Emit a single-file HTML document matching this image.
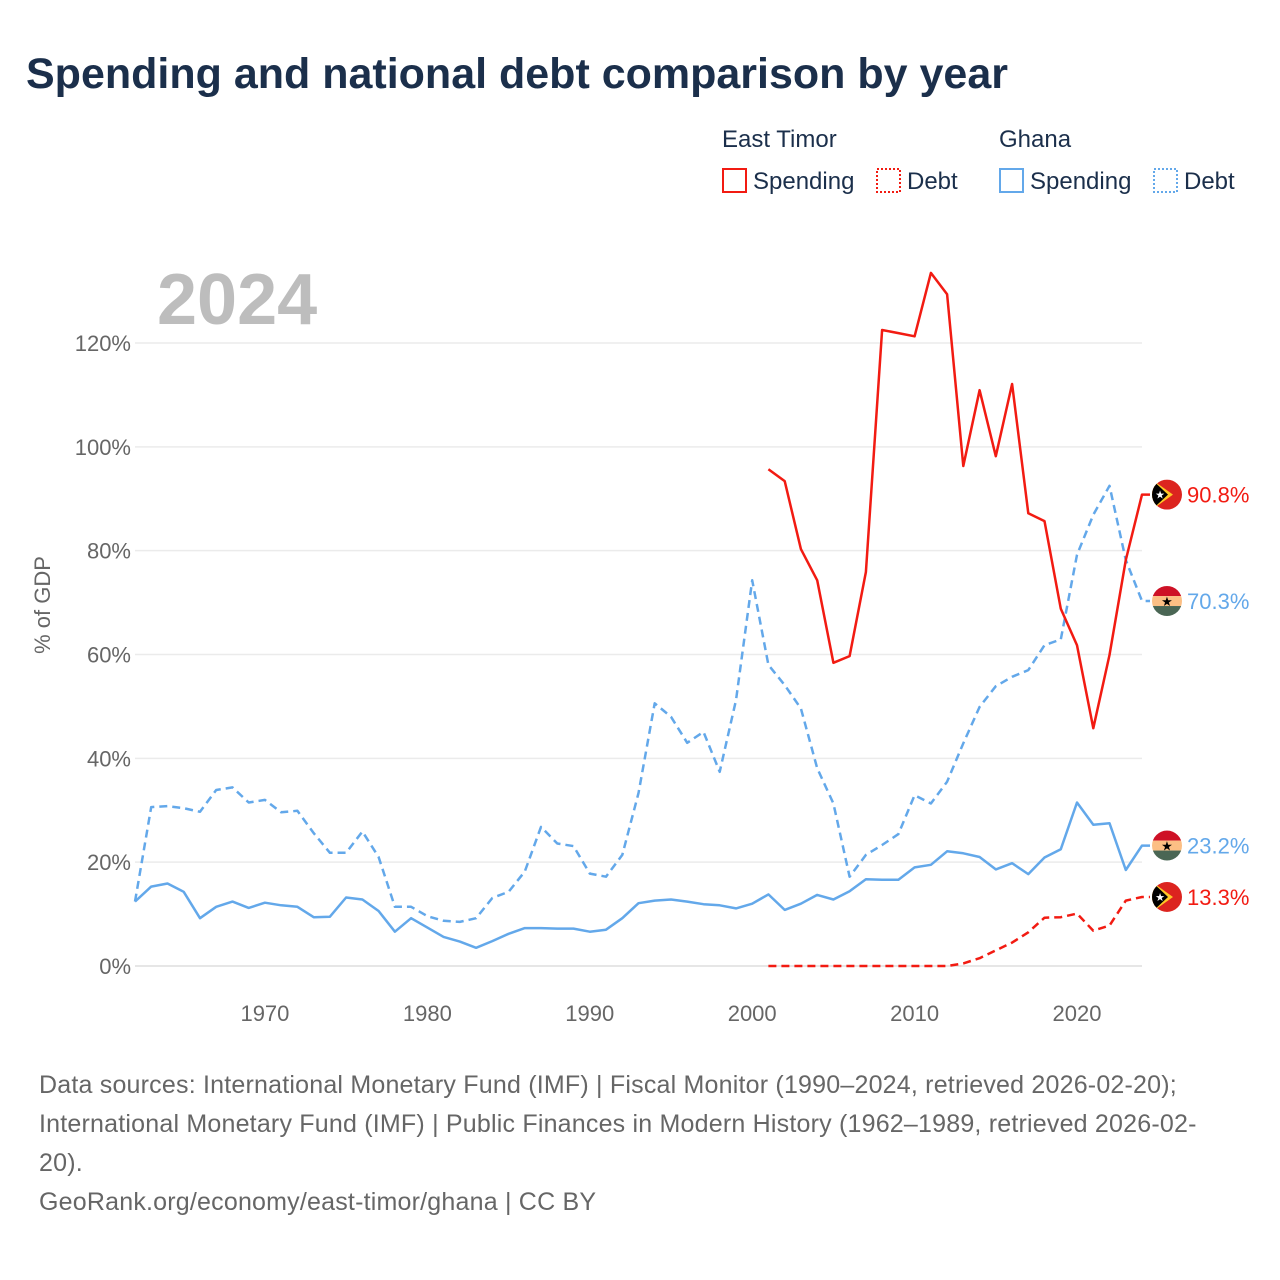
<!DOCTYPE html>
<html><head><meta charset="utf-8"><style>
body{margin:0;background:#fff;font-family:"Liberation Sans",sans-serif;}
#wrap{position:relative;width:1280px;height:1280px;overflow:hidden;}
.t{position:absolute;white-space:nowrap;}
</style></head><body>
<div id="wrap">
<div class="t" style="left:26px;top:50px;font-size:43px;font-weight:bold;color:#1b2f4b;">Spending and national debt comparison by year</div>
<svg id="chart" width="1280" height="1280" style="position:absolute;left:0;top:0"></svg>
<div class="t" style="left:39px;top:1066px;font-size:25px;letter-spacing:0.2px;line-height:39px;color:#666;">Data sources: International Monetary Fund (IMF) | Fiscal Monitor (1990–2024, retrieved 2026-02-20);<br>International Monetary Fund (IMF) | Public Finances in Modern History (1962–1989, retrieved 2026-02-<br>20).<br>GeoRank.org/economy/east-timor/ghana | CC BY</div>
</div>
<script>
const years = [];
for (let y = 1962; y <= 2024; y++) years.push(y);
const ghanaSpending = [12.4,15.3,15.9,14.3,9.2,11.4,12.4,11.2,12.2,11.7,11.4,9.4,9.5,13.2,12.8,10.6,6.6,9.2,7.4,5.6,4.7,3.5,4.8,6.2,7.3,7.3,7.2,7.2,6.6,7.0,9.2,12.1,12.6,12.8,12.4,11.9,11.7,11.1,12.0,13.8,10.8,12.0,13.7,12.8,14.4,16.7,16.6,16.6,19.0,19.5,22.1,21.7,21.0,18.6,19.8,17.7,20.9,22.5,31.5,27.2,27.5,18.5,23.2];
const ghanaDebt = [12.4,30.6,30.8,30.4,29.7,33.9,34.4,31.5,32.0,29.6,29.9,25.6,21.8,21.8,25.9,21.0,11.4,11.4,9.6,8.7,8.5,9.2,13.1,14.3,18.2,26.8,23.6,23.1,17.8,17.2,21.4,33.3,50.6,48.0,43.0,45.1,37.4,51.2,74.3,58.0,54.1,49.6,38.1,31.3,17.2,21.4,23.3,25.4,32.9,31.3,35.5,42.9,49.9,53.9,55.7,57.0,61.8,62.9,79.2,86.9,92.5,78.2,70.3];
const etYears = [];
for (let y = 2001; y <= 2024; y++) etYears.push(y);
const etSpending = [95.7,93.4,80.3,74.3,58.4,59.7,75.9,122.5,121.9,121.3,133.5,129.4,96.3,110.9,98.2,112.1,87.2,85.7,68.8,61.8,45.8,59.9,78.2,90.8];
const etDebt = [0,0,0,0,0,0,0,0,0,0,0,0,0.5,1.5,3.0,4.5,6.5,9.3,9.4,10.1,6.8,7.8,12.6,13.3];
const yTicks = [0,20,40,60,80,100,120];
const xTicks = [1970,1980,1990,2000,2010,2020];

const NS = "http://www.w3.org/2000/svg";
const svg = document.getElementById("chart");
const X = yr => 135 + (yr - 1962) * (1142 - 135) / 62;
const Y = v => 966 - v * (966 - 343) / 120;
function el(tag, attrs, parent) {
  const e = document.createElementNS(NS, tag);
  for (const k in attrs) e.setAttribute(k, attrs[k]);
  (parent || svg).appendChild(e);
  return e;
}
yTicks.forEach(v => {
  const g = el("line", {x1:135, x2:1142, y1:Y(v), y2:Y(v), stroke: v===0?"#ddd":"#ebebeb", "stroke-width":1.5});
  
  
  const t = el("text", {x:131, y:Y(v)+8, "text-anchor":"end", "font-size":22, fill:"#666", "font-family":"Liberation Sans, sans-serif"});
  t.textContent = v + "%";
  
  
});
xTicks.forEach(yr => {
  const t = el("text", {x:X(yr), y:1021, "text-anchor":"middle", "font-size":22, fill:"#666", "font-family":"Liberation Sans, sans-serif"});
  t.textContent = yr;
  
  
});
const yt = el("text", {x:0, y:0, transform:"translate(50,605) rotate(-90)", "text-anchor":"middle", "font-size":22, fill:"#666", "font-family":"Liberation Sans, sans-serif"});
yt.textContent = "% of GDP";


const yr = el("text", {x:157, y:324, "font-size":72, "font-weight":"bold", fill:"#bdbdbd", "font-family":"Liberation Sans, sans-serif"});
yr.textContent = "2024";



function series(xs, vs, color, dash, name) {
  let d = xs.map((x,i)=>(i?"L":"M")+X(x).toFixed(1)+","+Y(vs[i]).toFixed(1)).join(" ");
  d += " L1150," + Y(vs[vs.length-1]).toFixed(1);
  const p = el("path", {d:d, fill:"none", stroke:color, "stroke-width":2.5, "stroke-linejoin":"round", "stroke-dasharray":dash||"none"});
  
  
}
series(years, ghanaDebt, "#63a8ea", "8,5", "ghana-debt-line");
series(years, ghanaSpending, "#63a8ea", null, "ghana-spending-line");
series(etYears, etDebt, "#f21b12", "8,5", "east-timor-debt-line");
series(etYears, etSpending, "#f21b12", null, "east-timor-spending-line");

let cid = 0;
function flag(type, v, label, color, name) {
  const cy = Y(v), cx = 1167, r = 15;
  const id = "c" + (cid++);
  const cp = el("clipPath", {id:id});
  el("circle", {cx:cx, cy:cy, r:r}, cp);
  const g = el("g", {"clip-path":"url(#"+id+")"});
  
  
  if (type === "gh") {
    el("rect", {x:cx-r, y:cy-r, width:2*r, height:10, fill:"#ce1126"}, g);
    el("rect", {x:cx-r, y:cy-5, width:2*r, height:10, fill:"#fcbf84"}, g);
    el("rect", {x:cx-r, y:cy+5, width:2*r, height:10, fill:"#4a6654"}, g);
    const s = el("text", {x:cx, y:cy+5, "text-anchor":"middle", "font-size":13, fill:"#000"}, g); s.textContent = "★";
  } else {
    el("rect", {x:cx-r, y:cy-r, width:2*r, height:2*r, fill:"#dc241f"}, g);
    el("polygon", {points:`${cx-r},${cy-r} ${cx+6},${cy} ${cx-r},${cy+r}`, fill:"#ffc726"}, g);
    el("polygon", {points:`${cx-r},${cy-r} ${cx+1},${cy} ${cx-r},${cy+r}`, fill:"#000"}, g);
    const s = el("text", {x:cx-7, y:cy+4, "text-anchor":"middle", "font-size":11, fill:"#fff"}, g); s.textContent = "★";
  }
  const t = el("text", {x:1187, y:cy+8, "font-size":22, fill:color, "font-family":"Liberation Sans, sans-serif"});
  t.textContent = label;
  
  
}
flag("et", etSpending[etSpending.length-1], etSpending[etSpending.length-1].toFixed(1)+"%", "#f21b12", "east-timor-spending");
flag("gh", ghanaDebt[ghanaDebt.length-1], ghanaDebt[ghanaDebt.length-1].toFixed(1)+"%", "#63a8ea", "ghana-debt");
flag("gh", ghanaSpending[ghanaSpending.length-1], ghanaSpending[ghanaSpending.length-1].toFixed(1)+"%", "#63a8ea", "ghana-spending");
flag("et", etDebt[etDebt.length-1], etDebt[etDebt.length-1].toFixed(1)+"%", "#f21b12", "east-timor-debt");

// legend
function ltext(x, y, s, name) {
  const t = el("text", {x:x, y:y, "font-size":24, fill:"#1b2f4b", "font-family":"Liberation Sans, sans-serif"});
  t.textContent = s;
  
  
}
function lbox(x, color, dash, name) {
  const r = el("rect", {x:x, y:169, width:23, height:23, fill:"none", stroke:color, "stroke-width":2, "stroke-dasharray":dash||"none"});
  
  
}
ltext(722, 147, "East Timor", "legend-group-east-timor");
ltext(999, 147, "Ghana", "legend-group-ghana");
lbox(723, "#f21b12", null, "legend-east-timor-spending-swatch");
ltext(753, 189, "Spending", "legend-east-timor-spending");
lbox(877, "#f21b12", "2,2", "legend-east-timor-debt-swatch");
ltext(907, 189, "Debt", "legend-east-timor-debt");
lbox(1000, "#63a8ea", null, "legend-ghana-spending-swatch");
ltext(1030, 189, "Spending", "legend-ghana-spending");
lbox(1154, "#63a8ea", "2,2", "legend-ghana-debt-swatch");
ltext(1184, 189, "Debt", "legend-ghana-debt");
</script>
</body></html>
